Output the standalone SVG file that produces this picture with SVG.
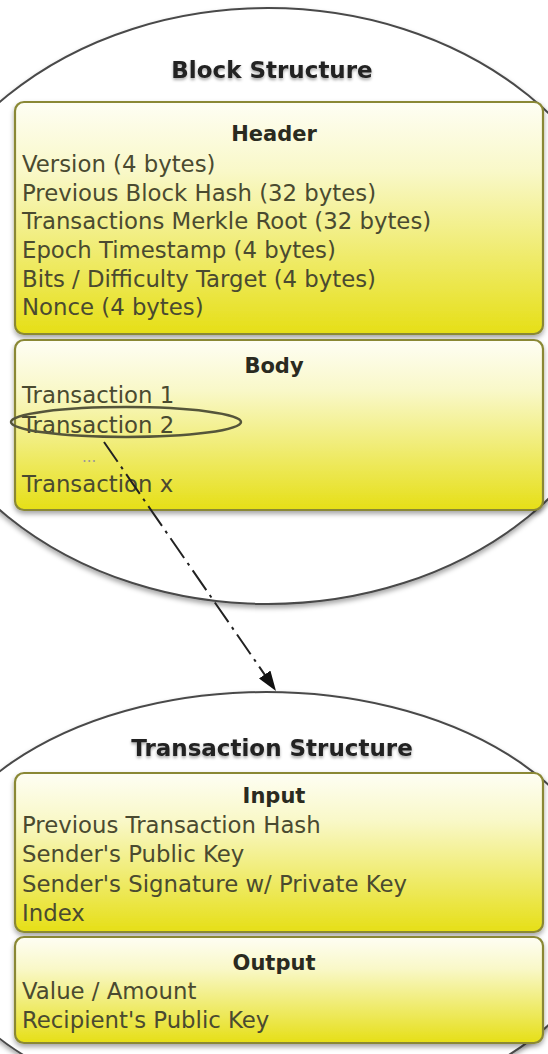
<svg xmlns="http://www.w3.org/2000/svg" width="548" height="1054" viewBox="0 0 548 1054">
<defs>
<linearGradient id="yg" x1="0" y1="0" x2="0" y2="1">
<stop offset="0" stop-color="#fefef4"/>
<stop offset="0.3" stop-color="#f9f8c8"/>
<stop offset="1" stop-color="#e6df16"/>
</linearGradient>
<filter id="sh" x="-10%" y="-10%" width="120%" height="120%">
<feDropShadow dx="0" dy="3" stdDeviation="2.5" flood-color="#000" flood-opacity="0.35"/>
</filter>
<filter id="tsh" x="-10%" y="-30%" width="120%" height="160%">
<feDropShadow dx="0" dy="2" stdDeviation="1.5" flood-color="#000" flood-opacity="0.35"/>
</filter>
<marker id="arr" viewBox="0 0 20 14" refX="20" refY="7" markerWidth="20" markerHeight="14" markerUnits="userSpaceOnUse" orient="auto">
<path d="M0,0 L20,7 L0,14 Z" fill="#111"/>
</marker>
</defs>
<style>
.big{fill:#fff;stroke:#4a4a4a;stroke-width:2;filter:url(#sh)}
.box{fill:url(#yg);stroke:#8a8836;stroke-width:2.2;filter:url(#sh)}
.title{font-family:"DejaVu Sans",sans-serif;font-weight:bold;font-size:23px;fill:#222;text-anchor:middle;filter:url(#tsh)}
.hd{font-family:"DejaVu Sans",sans-serif;font-weight:bold;font-size:21px;fill:#2a2a20;text-anchor:middle}
.ln{font-family:"DejaVu Sans",sans-serif;font-size:22.8px;fill:#4a4a30}
.conn{fill:none;stroke:#222;stroke-width:2;stroke-dasharray:24 6 3 6}
</style>
<rect width="548" height="1054" fill="#fff"/>
<g id="block">
<ellipse class="big" cx="268" cy="306" rx="368" ry="298"/>
<text class="title" x="272" y="78">Block Structure</text>
</g>
<g id="header">
<rect class="box" x="15" y="102" width="528" height="232" rx="9"/>
<text class="hd" x="274" y="141">Header</text>
<text class="ln" x="22" y="172">Version (4 bytes)</text>
<text class="ln" x="22" y="201">Previous Block Hash (32 bytes)</text>
<text class="ln" x="22" y="229">Transactions Merkle Root (32 bytes)</text>
<text class="ln" x="22" y="258">Epoch Timestamp (4 bytes)</text>
<text class="ln" x="22" y="287">Bits / Difficulty Target (4 bytes)</text>
<text class="ln" x="22" y="315">Nonce (4 bytes)</text>
</g>
<g id="body">
<rect class="box" x="15" y="340" width="528" height="170" rx="9"/>
<text class="hd" x="274" y="373">Body</text>
<text class="ln" x="22" y="403">Transaction 1</text>
<text class="ln" x="22" y="433">Transaction 2</text>
<text class="ln" x="82" y="462" style="font-size:15px;fill:#999">...</text>
<text class="ln" x="22" y="492">Transaction x</text>
</g>
<g id="tx2-mark">
<ellipse cx="126" cy="422" rx="115" ry="15" fill="none" stroke="#55553a" stroke-width="2.5"/>
</g>
<g id="connectors">
<path class="conn" d="M104,442 L276,691" marker-end="url(#arr)"/>
</g>
<g id="transaction">
<ellipse class="big" cx="266" cy="905" rx="342" ry="213"/>
<text class="title" x="272" y="756">Transaction Structure</text>
</g>
<g id="input">
<rect class="box" x="15" y="773" width="528" height="159" rx="9"/>
<text class="hd" x="274" y="803">Input</text>
<text class="ln" x="22" y="833">Previous Transaction Hash</text>
<text class="ln" x="22" y="862">Sender's Public Key</text>
<text class="ln" x="22" y="892">Sender's Signature w/ Private Key</text>
<text class="ln" x="22" y="921">Index</text>
</g>
<g id="output">
<rect class="box" x="15" y="937" width="528" height="106" rx="9"/>
<text class="hd" x="274" y="970">Output</text>
<text class="ln" x="22" y="999">Value / Amount</text>
<text class="ln" x="22" y="1028">Recipient's Public Key</text>
</g>
</svg>
